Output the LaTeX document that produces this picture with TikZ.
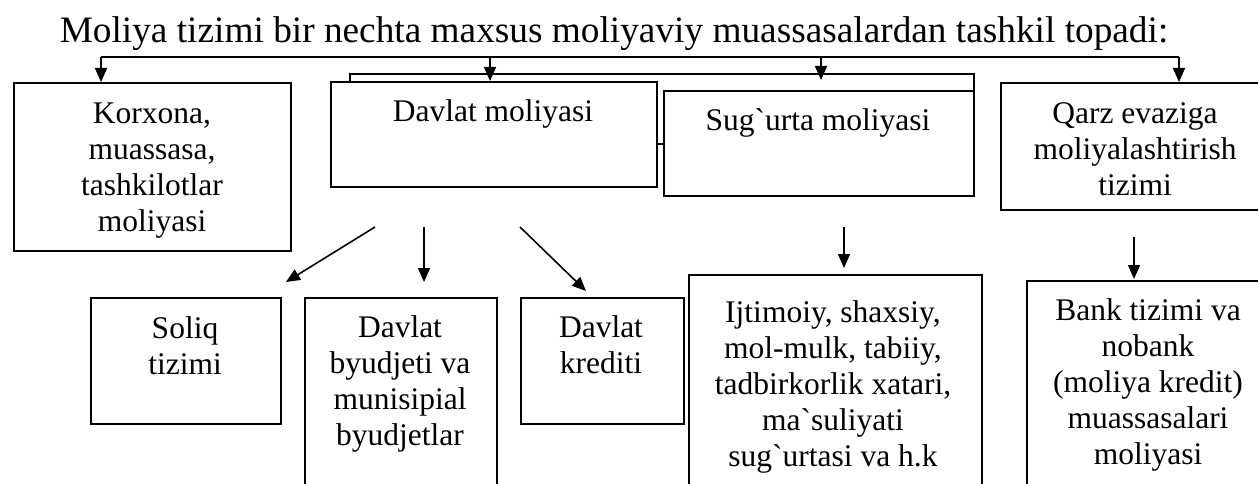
\documentclass[tikz,border=0pt]{standalone}
\usepackage{fontspec}
\setmainfont{Liberation Serif}[Ligatures=TeXOff]
\usetikzlibrary{arrows.meta}
\begin{document}
\begin{tikzpicture}[x=1pt,y=-1pt,
  box/.style={draw,line width=1.6pt,fill=white,rectangle,inner sep=0pt},
  txt/.style={align=center,inner sep=0pt,font=\fontsize{31.5}{36}\selectfont},
  arr/.style={line width=1.6pt,-{Triangle[length=14pt,width=12pt]}},
  ln/.style={line width=1.6pt}]
\useasboundingbox (0,0) rectangle (1258,484);
\clip (0,0) rectangle (1258,484);
% title
\node[inner sep=0pt,anchor=base,font=\fontsize{37.3}{40}\selectfont] (title) at (614,43) {Moliya tizimi bir nechta maxsus moliyaviy muassasalardan tashkil topadi:};
% boxes
\node[box,minimum width=277pt,minimum height=168pt,anchor=north west] (korx) at (13,82) {};
\node[box,minimum width=624pt,minimum height=70pt,anchor=north west] (back) at (349,73) {};
\node[box,minimum width=326pt,minimum height=105pt,anchor=north west] (dav) at (330,81) {};
\node[box,minimum width=310pt,minimum height=105pt,anchor=north west] (sug) at (663,90) {};
\node[box,minimum width=280pt,minimum height=127pt,anchor=north west] (qarz) at (1000,82) {};
\node[box,minimum width=190pt,minimum height=126pt,anchor=north west] (soliq) at (90,297) {};
\node[box,minimum width=192pt,minimum height=220pt,anchor=north west] (byud) at (304,297) {};
\node[box,minimum width=163pt,minimum height=126pt,anchor=north west] (kred) at (520,297) {};
\node[box,minimum width=293pt,minimum height=230pt,anchor=north west] (ijt) at (688,274) {};
\node[box,minimum width=250pt,minimum height=230pt,anchor=north west] (bank) at (1026,280) {};
% texts (anchor base = baseline of last line)
\node[txt,anchor=base] (tkorx) at (152,231) {Korxona,\\muassasa,\\tashkilotlar\\moliyasi};
\node[txt,anchor=base] (tdav) at (493,122) {Davlat moliyasi};
\node[txt,anchor=base] (tsug) at (818,131) {Sug`urta moliyasi};
\node[txt,anchor=base] (tqarz) at (1135,195) {Qarz evaziga\\moliyalashtirish\\tizimi};
\node[txt,anchor=base] (tsol) at (185,374) {Soliq\\tizimi};
\node[txt,anchor=base] (tbyud) at (400,445) {Davlat\\byudjeti va\\munisipial\\byudjetlar};
\node[txt,anchor=base] (tkred) at (601,373) {Davlat\\krediti};
\node[txt,anchor=base] (tijt) at (833,466) {Ijtimoiy, shaxsiy,\\mol-mulk, tabiiy,\\tadbirkorlik xatari,\\ma`suliyati\\sug`urtasi va h.k};
\node[txt,anchor=base] (tbank) at (1148,464) {Bank tizimi va\\nobank\\(moliya kredit)\\muassasalari\\moliyasi};
% top distribution line
\coordinate (l1) at (101,57);
\coordinate (l2) at (490,57);
\coordinate (l3) at (821,57);
\coordinate (l4) at (1179,57);
\draw[ln] (l1) -- (l4);
\draw[arr] (l1) -- (korx.north -| l1);
\draw[arr] (l2) -- (dav.north -| l2);
\draw[arr] (l3) -- (821,80);
\draw[arr] (l4) -- (qarz.north -| l4);
% lower arrows
\coordinate (a1s) at (375,227); \coordinate (a1e) at (286,282);
\coordinate (a2s) at (424,227); \coordinate (a2e) at (424,282);
\coordinate (a3s) at (520,227); \coordinate (a3e) at (586,291);
\coordinate (a4s) at (844,227); \coordinate (a4e) at (844,268);
\coordinate (a5s) at (1134,237); \coordinate (a5e) at (1134,279);
\draw[arr] (a1s) -- (a1e);
\draw[arr] (a2s) -- (a2e);
\draw[arr] (a3s) -- (a3e);
\draw[arr] (a4s) -- (a4e);
\draw[arr] (a5s) -- (a5e);
\end{tikzpicture}
\end{document}
